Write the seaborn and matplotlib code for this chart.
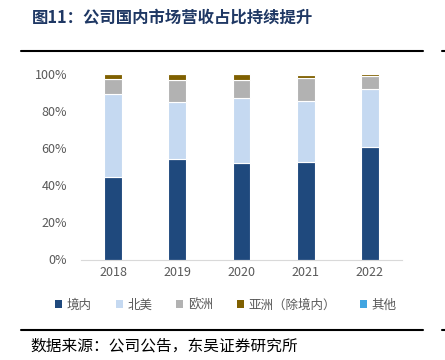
import numpy as np
import pandas as pd
import matplotlib
matplotlib.use("Agg")
import matplotlib.pyplot as plt
import seaborn as sns
from matplotlib.lines import Line2D
from matplotlib.patches import Patch

years = ["2018", "2019", "2020", "2021", "2022"]
regions = ["境内", "北美", "欧洲", "亚洲（除境内）", "其他"]
domestic = [44.6, 54.2, 52.2, 52.4, 60.8]
north_america = [44.5, 30.9, 34.9, 33.2, 31.1]
europe = [8.2, 11.7, 9.5, 12.1, 6.9]
asia_ex = [2.5, 3.0, 3.2, 2.0, 1.0]
others = [0.2, 0.2, 0.2, 0.3, 0.2]

colors = ["#1F497D", "#C5D9F1", "#B2B2B2", "#7F6000", "#41A5E1"]

sns.set_style("white")
plt.rcParams["font.family"] = ["Noto Sans CJK SC", "DejaVu Sans"]

df = pd.DataFrame(
    {"year": years, "境内": domestic, "北美": north_america, "欧洲": europe,
     "亚洲（除境内）": asia_ex, "其他": others}
)

fig = plt.figure(figsize=(4.45, 3.6), dpi=100)
ax = fig.add_axes([81 / 445, 1 - 259.5 / 360, (402 - 81) / 445, (259.5 - 74) / 360])

#---------------------stacked bars--------------------------
bottom = np.zeros(len(years))
for reg, col in zip(regions, colors):
    sns.barplot(x="year", y=reg, data=df, color=col, width=0.28, saturation=1,
                bottom=bottom, edgecolor="white", linewidth=0.8, ax=ax)
    bottom += df[reg].values

ax.set_ylim(0, 100)
ax.set_yticks(range(0, 101, 20))
ax.set_yticklabels([f"{v}%" for v in range(0, 101, 20)])
ax.set_xlabel("")
ax.set_ylabel("")
for s in ["top", "right", "left"]:
    ax.spines[s].set_visible(False)
ax.spines["bottom"].set_color("#D9D9D9")
ax.tick_params(axis="both", colors="#595959", labelsize=9, length=0)
ax.tick_params(axis="y", pad=10)
ax.tick_params(axis="x", pad=5)

handles = [Patch(facecolor=c, edgecolor="none") for c in colors]
fig.legend(handles, regions, loc="center", bbox_to_anchor=(226 / 445, 1 - 305 / 360),
           ncol=5, frameon=False, fontsize=9, handlelength=0.55, handleheight=0.55,
           handletextpad=0.4, columnspacing=1.9, labelcolor="#595959")

#---------------------title and source--------------------------
fig.text(32 / 445, 1 - 18 / 360, "图11：公司国内市场营收占比持续提升", fontsize=11.8,
         fontweight="bold", color="#1F3864", va="center", ha="left")
fig.text(30 / 445, 1 - 346 / 360, "数据来源：公司公告，东吴证券研究所", fontsize=11.3,
         color="black", va="center", ha="left")

fig.add_artist(Line2D([21 / 445, 423 / 445], [1 - 51 / 360] * 2, color="black", lw=1.5))
fig.add_artist(Line2D([21 / 445, 423 / 445], [1 - 329.5 / 360] * 2, color="black", lw=1.5))
fig.add_artist(Line2D([442 / 445, 445 / 445], [1 - 51 / 360] * 2, color="black", lw=1.5))
fig.add_artist(Line2D([442 / 445, 445 / 445], [1 - 329.5 / 360] * 2, color="black", lw=1.5))

fig.savefig("out.png", dpi=100)
